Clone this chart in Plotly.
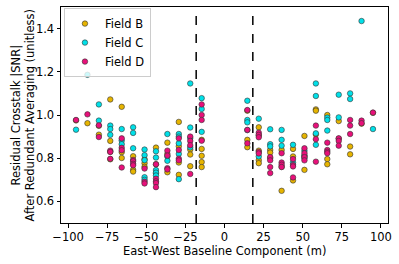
import plotly.graph_objects as go

# East-West baseline components (m) of each column of points
baseline_x = [-94.9, -87.6, -80.3, -73.0, -65.7, -58.4, -51.1, -43.8, -36.5, -29.2, -21.9, -14.6,
              14.6, 21.9, 29.2, 36.5, 43.8, 51.1, 58.4, 65.7, 73.0, 80.3, 87.6, 94.9]

field_b = [
    [0.975], [0.962], [0.909, 0.95], [1.072, 0.880, 0.83, 0.795], [1.038, 0.828, 0.801],
    [0.809, 0.746, 0.738], [0.795, 0.777, 0.76], [0.849, 0.772, 0.73], [0.872, 0.82, 0.735],
    [0.968, 0.855, 0.78, 0.723], [0.84, 0.817, 0.763], [0.885, 0.843, 0.811, 0.782, 0.759],
    [1.02, 0.885, 0.851], [0.943, 0.905, 0.835, 0.791, 0.777], [0.838, 0.826, 0.80],
    [0.838, 0.76, 0.649], [0.843, 0.808, 0.697], [0.903, 0.81, 0.746], [1.026, 1.02, 0.91],
    [1.0, 0.796, 0.772], [0.972, 0.89], [0.854, 0.818], [0.96], [1.01],
]
field_c = [
    [0.932], [1.186], [1.049, 0.974], [0.951, 0.935, 0.908], [0.935, 0.882, 0.865],
    [0.943, 0.917, 0.846], [0.840, 0.814, 0.791, 0.712, 0.70], [0.832, 0.803, 0.745, 0.733, 0.72],
    [0.912, 0.808, 0.788], [0.912, 0.900, 0.869, 0.82, 0.703], [1.146, 0.942, 0.893, 0.85],
    [1.078, 1.028, 0.922],
    [1.066, 0.977, 0.966, 0.93], [0.983, 0.808], [0.934, 0.865, 0.855], [0.931, 0.885, 0.858],
    [0.862, 0.78], [0.834, 0.812, 0.80], [1.146, 1.088, 0.915, 0.862], [0.988, 0.977, 0.928],
    [1.094, 0.989], [1.1, 1.074], [1.435], [0.935],
]
field_d = [
    [0.977], [1.003], [0.952, 0.898], [0.835, 0.829, 0.797], [0.892, 0.848, 0.837, 0.757],
    [0.792, 0.786, 0.774, 0.767], [0.752, 0.691, 0.683], [0.772, 0.705, 0.693, 0.685, 0.666],
    [0.835, 0.812, 0.754, 0.748], [0.892, 0.838, 0.798, 0.79], [0.90, 0.88, 0.86, 0.727],
    [1.049, 1.0, 0.977, 0.881],
    [1.023, 0.931, 0.869], [0.918, 0.908, 0.897, 0.829, 0.822], [0.805, 0.79, 0.759, 0.731],
    [0.823, 0.780, 0.77, 0.759], [0.796, 0.769, 0.762, 0.711], [0.846, 0.823, 0.805, 0.79],
    [0.951, 0.888, 0.784], [0.872, 0.838, 0.83, 0.823], [0.892, 0.88, 0.858],
    [0.977, 0.951, 0.912], [0.974, 0.962], [1.011],
]

field_names = ["Field B", "Field C", "Field D"]
field_colors = ["#e6b400", "#00e0e8", "#e8107a"]
cut_lines = [-18.1, 18.1]
x_ticks = [-100, -75, -50, -25, 0, 25, 50, 75, 100]
y_ticks = [0.6, 0.8, 1.0, 1.2, 1.4]
x_title = "East-West Baseline Component (m)"
y_title = "Residual Crosstalk |SNR|<br>After Redundant Averaging (unitless)"

font = "DejaVu Sans, Liberation Sans, sans-serif"

fig = go.Figure()
for name, color, cols in zip(field_names, field_colors, [field_b, field_c, field_d]):
    xs, ys = [], []
    for bx, vals in zip(baseline_x, cols):
        for v in vals:
            xs.append(bx)
            ys.append(v)
    fig.add_trace(go.Scatter(
        x=xs, y=ys, mode="markers", name=name,
        marker=dict(size=5.5, color=color, line=dict(width=0.6, color="#333333")),
    ))

for cx in cut_lines:
    fig.add_shape(type="line", xref="x", yref="paper", x0=cx, x1=cx, y0=0, y1=1,
                  line=dict(color="black", width=1.5, dash="dash"))

axis_common = dict(
    showline=True, linecolor="black", linewidth=1, mirror=True,
    ticks="outside", ticklen=3.5, tickwidth=1, tickcolor="black",
    showgrid=False, zeroline=False,
    tickfont=dict(family=font, size=11.5, color="black"),
)

# axis titles as annotations for precise placement
fig.add_annotation(text=x_title, xref="paper", yref="paper", x=0.5, y=0,
                   xanchor="center", yanchor="middle", yshift=-27.5, showarrow=False,
                   font=dict(family=font, size=11.5, color="black"))
fig.add_annotation(text=y_title, xref="paper", yref="paper", x=0, y=0.5,
                   xanchor="center", yanchor="middle", xshift=-38.5, textangle=-90,
                   showarrow=False, font=dict(family=font, size=11.5, color="black"))

fig.update_layout(
    width=399, height=264,
    margin=dict(l=61, r=11, t=7, b=41),
    paper_bgcolor="white", plot_bgcolor="white",
    font=dict(family=font, size=11.5, color="black"),
    showlegend=True,
    legend=dict(
        x=0.009, y=0.995, xanchor="left", yanchor="top",
        bgcolor="rgba(255,255,255,0.8)", bordercolor="#cccccc", borderwidth=1,
        font=dict(family=font, size=11.5, color="black"),
        tracegroupgap=0,
    ),
    xaxis=dict(
        range=[-104.5, 104.5], tickvals=x_ticks,
        ticktext=[str(t).replace("-", "\u2212") for t in x_ticks],
        **axis_common,
    ),
    yaxis=dict(
        range=[0.5, 1.5], tickvals=y_ticks, ticktext=[f"{t:.1f}" for t in y_ticks],
        **axis_common,
    ),
)

fig.write_html("out.html", config={"displayModeBar": False},
               post_script="document.body.style.margin='0px';")
